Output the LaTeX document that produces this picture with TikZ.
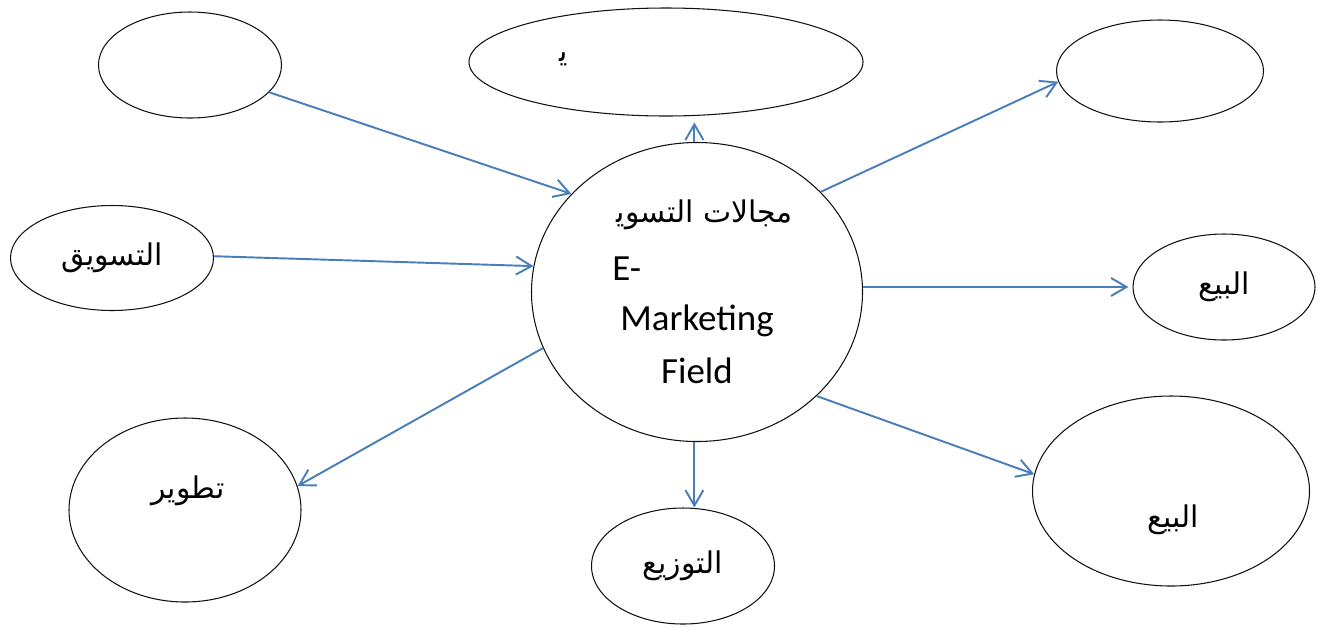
\documentclass[tikz,border=0pt]{standalone}
\usepackage{fontspec}
\usepackage{xcolor}
\definecolor{cLink}{HTML}{4A7EBB}
\definecolor{cEdge}{HTML}{111111}
\newfontfamily\arabicfont[Script=Arabic]{DejaVu Sans}
\newfontfamily\latinfont{Carlito}
\TeXXeTstate=1
\newcommand{\artext}[1]{\beginR #1\endR}
\usetikzlibrary{arrows.meta,shapes.geometric}
\tikzset{
  node-oval/.style={draw=cEdge,line width=0.6pt,ellipse,inner sep=0pt,
    font=\arabicfont\fontsize{17}{20}\selectfont},
  node-tag/.style={inner sep=0pt,font=\arabicfont\fontsize{17}{20}\selectfont},
  node-en/.style={inner sep=0pt,font=\latinfont\fontsize{21}{25}\selectfont},
  arrow-link/.style={-{Straight Barb[length=3.1mm,width=3.6mm]},line width=1.1pt,draw=cLink},
}

\begin{document}
\begin{tikzpicture}[x=0.2mm,y=-0.2mm]
  \useasboundingbox (0,0) rectangle (1317,628);
  % central field
  \node[node-oval,minimum width=66.2mm,minimum height=59.8mm] (hub) at (697,292) {};
  \node[node-tag,anchor=base east] (hub-ar) at (793,222) {\artext{مجالات التسوي^^^^200d}};
  \node[node-en,anchor=base west] (hub-e) at (612,280) {E-};
  \node[node-en,anchor=base] (hub-mk) at (697,330) {Marketing};
  \node[node-en,anchor=base] (hub-fd) at (697,383) {Field};

  % outer fields
  \node[node-oval,minimum width=36.6mm,minimum height=21.2mm] (promo) at (190,65) {};
  \node[node-oval,minimum width=78.8mm,minimum height=21.6mm] (study) at (666,62) {};
  \node[node-tag] (study-ya) at (564,59) {\artext{ي^^^^200d}};
  \node[node-oval,minimum width=41.4mm,minimum height=20.4mm] (serve) at (1160,71) {};
  \node[node-oval,minimum width=40.6mm,minimum height=21mm] (mkt) at (112,258) {\artext{التسويق}};
  \node[node-oval,minimum width=36.4mm,minimum height=21.2mm] (sale) at (1224,287) {\artext{البيع}};
  \node[node-oval,minimum width=46.4mm,minimum height=36.8mm] (dev) at (185,510) {};
  \node[node-tag] (dev-txt) at (188,491) {\artext{تطوير}};
  \node[node-oval,minimum width=36.6mm,minimum height=23.2mm] (dist) at (683,566) {\artext{التوزيع}};
  \node[node-oval,minimum width=55.4mm,minimum height=38mm] (sale2) at (1171,491) {};
  \node[node-tag] (sale2-txt) at (1173,520) {\artext{البيع}};

  % links
  \draw[arrow-link] (promo.-19) -- (hub.142);
  \draw[arrow-link] (mkt.1) -- (hub.171);
  \draw[arrow-link] (hub.200) -- (dev.12);
  \draw[arrow-link] (hub.-91) -- (hub.-91 |- dist.north);
  \draw[arrow-link] (hub.-41) -- (sale2.173);
  \draw[arrow-link,shorten >=0.8mm] (hub.east |- sale.west) -- (sale.west);
  \draw[arrow-link] (hub.39) -- (serve.186);
  \draw[arrow-link,shorten >=1.2mm] (hub.91) -- (hub.91 |- study.south);
\end{tikzpicture}
\end{document}
